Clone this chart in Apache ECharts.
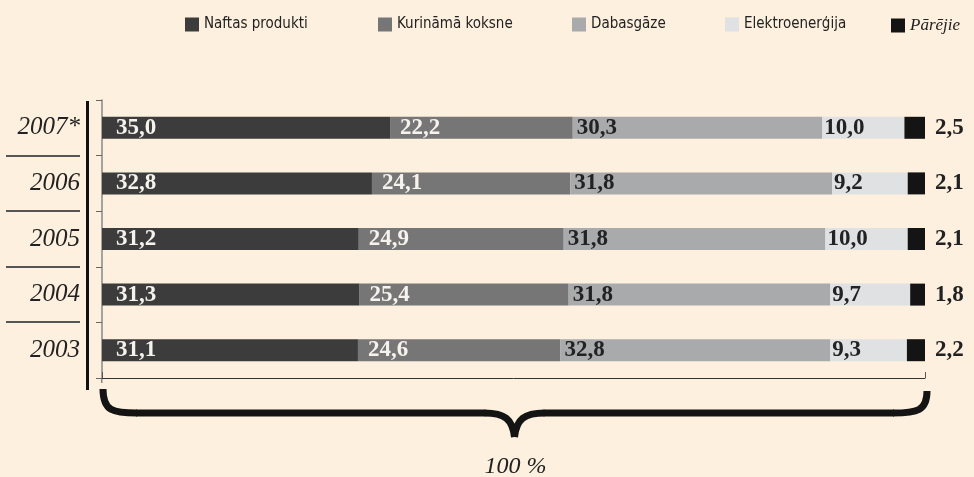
<!DOCTYPE html>
<html>
<head>
<meta charset="utf-8">
<script src="https://cdn.jsdelivr.net/npm/echarts@6/dist/echarts.min.js"></script>
<style>
  html, body { margin: 0; padding: 0; background: #fdf0df; }
  #main { width: 974px; height: 477px; }
</style>
</head>
<body>
<div id="main"></div>
<script>
var years = ["2007*", "2006", "2005", "2004", "2003"];
var naftas = [35.0, 32.8, 31.2, 31.3, 31.1];
var koksne = [22.2, 24.1, 24.9, 25.4, 24.6];
var gaze = [30.3, 31.8, 31.8, 31.8, 32.8];
var elektro = [10.0, 9.2, 10.0, 9.7, 9.3];
var parejie = [2.5, 2.1, 2.1, 1.8, 2.2];

var names = ["Naftas produkti", "Kurināmā koksne", "Dabasgāze", "Elektroenerģija", "Pārējie"];
var colors = ["#3b3c3b", "#767676", "#a9aaab", "#e0e1e2", "#141414"];
var legendLeft = [180, 373, 567, 720, 886];

var sans = "'Liberation Sans Narrow', 'DejaVu Sans Condensed', sans-serif";
var serif = "'Liberation Serif', 'DejaVu Serif', serif";

var GL = 102, GR = 49, GT = 100, GB = 99;

function fmt(p) {
  return p.value.toFixed(1).replace(".", ",");
}

var chart = echarts.init(document.getElementById("main"));

// one legend per item so each sits where it does in the picture
var legends = names.map(function (n, i) {
  return {
    data: [n],
    left: legendLeft[i],
    top: 12,
    icon: "rect",
    itemWidth: 14,
    itemHeight: 14,
    itemGap: 10,
    selectedMode: false,
    textStyle: i == 4
      ? { fontFamily: serif, fontStyle: "italic", fontSize: 17, color: "#222" }
      : { fontFamily: sans, fontSize: 15, color: "#222" }
  };
});

var labelCfg = [
  { color: "#f6f3ee", distance: 14 },
  { color: "#f6f3ee", distance: 10 },
  { color: "#222", distance: 4 },
  { color: "#222", distance: 2 }
];

var datasets = [naftas, koksne, gaze, elektro, parejie];
var series = datasets.map(function (d, i) {
  var lab;
  if (i < 4) {
    lab = {
      show: true, position: "insideLeft", distance: labelCfg[i].distance,
      formatter: fmt, fontFamily: serif, fontWeight: "bold", fontSize: 23,
      color: labelCfg[i].color
    };
  } else {
    lab = {
      show: true, position: "right", distance: 10,
      formatter: fmt, fontFamily: serif, fontWeight: "bold", fontSize: 23,
      color: "#222"
    };
  }
  return {
    name: names[i],
    type: "bar",
    stack: "total",
    data: d,
    barWidth: 22,
    itemStyle: { color: colors[i] },
    label: lab,
    silent: true
  };
});

chart.setOption({
  backgroundColor: "#fdf0df",
  animation: false,
  legend: legends,
  grid: { left: GL, right: GR, top: GT, bottom: GB },
  xAxis: {
    type: "value", min: 0, max: 100, interval: 100,
    axisLine: { show: true, lineStyle: { color: "#333", width: 1 } },
    axisTick: { show: true, inside: true, length: 6, lineStyle: { color: "#555" } },
    axisLabel: { show: false },
    splitLine: { show: false }
  },
  yAxis: {
    type: "category", data: years, inverse: true,
    axisLine: { show: true, lineStyle: { color: "#888", width: 1.5 } },
    axisTick: { show: true, length: 6, lineStyle: { color: "#666" } },
    axisLabel: {
      margin: 22, fontFamily: serif, fontStyle: "italic", fontSize: 25, color: "#222"
    }
  },
  series: series
});

// decorations: separators between year labels, thick left bar, brace, 100 %
var g = [];
var yTop = GT, yBot = 477 - GB;
for (var i = 0; i < years.length - 1; i++) {
  var a = chart.convertToPixel({ yAxisIndex: 0 }, years[i]);
  var b = chart.convertToPixel({ yAxisIndex: 0 }, years[i + 1]);
  var y = Math.round((a + b) / 2);
  g.push({ type: "line", shape: { x1: 6, y1: y, x2: 80, y2: y },
    style: { stroke: "#555", lineWidth: 2 } });
}
g.push({ type: "rect", shape: { x: 86, y: yTop + 1, width: 3, height: yBot - yTop + 11 },
  style: { fill: "#111" } });
// small grey stub of the y axis below the x axis
g.push({ type: "rect", shape: { x: GL - 1, y: yBot, width: 1.5, height: 5 },
  style: { fill: "#888" } });

var x0 = chart.convertToPixel({ xAxisIndex: 0 }, 0) + 1;
var x1 = chart.convertToPixel({ xAxisIndex: 0 }, 100) + 2;
var mid = chart.convertToPixel({ xAxisIndex: 0 }, 50) + 1;
var by = yBot + 35, tipY = yBot + 59, sy = yBot + 11;
var bs = { fill: null, stroke: "#141414", lineWidth: 7 };

// left hook
g.push({ type: "bezierCurve", shape: { x1: x0, y1: sy, cpx1: x0, cpy1: by - 2, cpx2: x0 + 10, cpy2: by, x2: x0 + 34, y2: by }, style: bs });
g.push({ type: "line", shape: { x1: x0 + 33, y1: by, x2: mid - 29, y2: by }, style: bs });
// centre tip
g.push({ type: "bezierCurve", shape: { x1: mid - 30, y1: by, cpx1: mid - 10, cpy1: by, cpx2: mid - 2, cpy2: by + 6, x2: mid, y2: tipY }, style: bs });
g.push({ type: "bezierCurve", shape: { x1: mid + 30, y1: by, cpx1: mid + 10, cpy1: by, cpx2: mid + 2, cpy2: by + 6, x2: mid, y2: tipY }, style: bs });
g.push({ type: "line", shape: { x1: mid + 29, y1: by, x2: x1 - 33, y2: by }, style: bs });
// right hook
g.push({ type: "bezierCurve", shape: { x1: x1 - 34, y1: by, cpx1: x1 - 10, cpy1: by, cpx2: x1, cpy2: by - 2, x2: x1, y2: sy + 2 }, style: bs });

g.push({ type: "text", x: mid + 1, y: yBot + 89,
  style: { text: "100 %", fontFamily: serif, fontStyle: "italic", fontSize: 24,
    fill: "#222", align: "center", verticalAlign: "middle" } });

chart.setOption({ graphic: g });
</script>
</body>
</html>
